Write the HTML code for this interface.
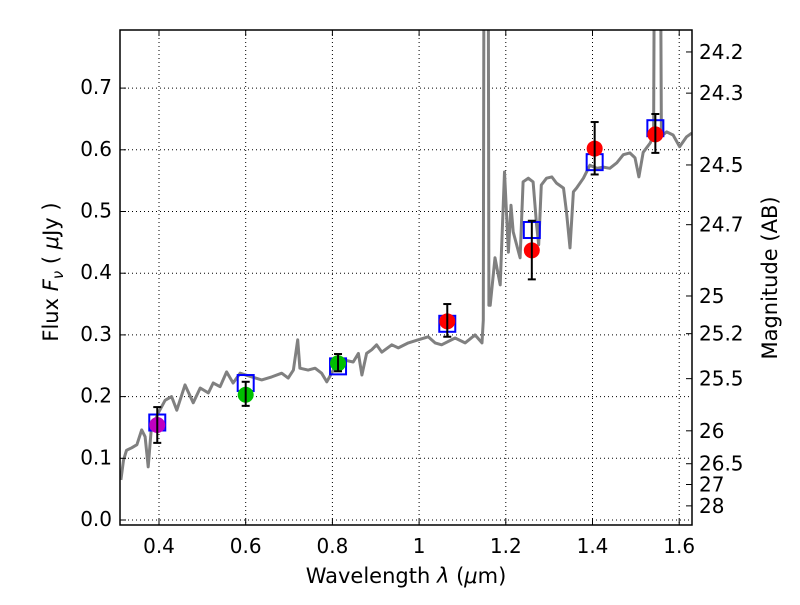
<!DOCTYPE html>
<html><head><meta charset="utf-8"><style>
body{margin:0;background:#fff}
svg text{font-family:"DejaVu Sans","Liberation Sans",sans-serif;fill:#000}
</style></head><body>
<svg id="chart" width="800" height="600" xmlns="http://www.w3.org/2000/svg">
<defs><clipPath id="clip"><rect x="120" y="30" width="572" height="495"/></clipPath></defs>
<rect width="800" height="600" fill="#fff"/>
<g id="grid"></g>
<g id="spec" clip-path="url(#clip)"></g>
<g id="pts" clip-path="url(#clip)"></g>
<rect x="120" y="30" width="572" height="495" fill="none" stroke="#000" stroke-width="1.5"/>
<g id="axes"></g>
<text x="406" y="583" font-size="21" text-anchor="middle">Wavelength  <tspan font-style="italic">λ</tspan> (<tspan font-style="italic">μ</tspan>m)</text>
<text transform="translate(58,272) rotate(-90)" font-size="21" text-anchor="middle">Flux  <tspan font-style="italic">F</tspan><tspan font-style="italic" font-size="15" dy="5">ν</tspan><tspan dy="-5">  ( </tspan><tspan font-style="italic">μ</tspan>Jy )</text>
<text transform="translate(777,278) rotate(-90)" font-size="21" text-anchor="middle">Magnitude (AB)</text>
</svg>
<script>
const specWave=[0.312,0.318,0.325,0.337,0.349,0.36,0.368,0.375,0.382,0.398,0.414,0.429,0.441,0.46,0.479,0.495,0.514,0.525,0.541,0.556,0.571,0.587,0.614,0.637,0.66,0.683,0.698,0.71,0.72,0.725,0.744,0.76,0.775,0.787,0.806,0.829,0.848,0.86,0.868,0.879,0.891,0.902,0.914,0.937,0.952,0.975,0.998,1.021,1.037,1.052,1.083,1.106,1.129,1.145,1.148,1.151,1.155,1.158,1.161,1.164,1.175,1.187,1.197,1.206,1.212,1.217,1.233,1.24,1.252,1.263,1.271,1.276,1.282,1.294,1.306,1.317,1.333,1.34,1.348,1.356,1.363,1.379,1.394,1.41,1.425,1.44,1.456,1.471,1.486,1.498,1.507,1.517,1.533,1.541,1.546,1.553,1.559,1.571,1.586,1.601,1.617,1.629];
const specFlux=[0.065,0.097,0.113,0.117,0.122,0.146,0.135,0.086,0.146,0.173,0.194,0.2,0.178,0.219,0.19,0.214,0.206,0.222,0.216,0.24,0.222,0.238,0.232,0.227,0.232,0.238,0.23,0.243,0.292,0.246,0.243,0.246,0.238,0.224,0.248,0.259,0.256,0.27,0.235,0.27,0.276,0.284,0.272,0.284,0.279,0.287,0.292,0.297,0.287,0.284,0.295,0.287,0.3,0.287,0.324,1.5,1.5,1.5,0.348,0.348,0.425,0.381,0.564,0.434,0.51,0.467,0.425,0.548,0.554,0.548,0.478,0.446,0.543,0.554,0.556,0.546,0.538,0.499,0.441,0.532,0.538,0.554,0.575,0.57,0.572,0.57,0.579,0.592,0.595,0.587,0.556,0.596,0.611,0.624,1.5,1.5,0.622,0.629,0.624,0.605,0.621,0.627];
const ptWave=[0.396,0.6,0.813,1.065,1.26,1.405,1.545];
const ptFlux=[0.154,0.203,0.254,0.322,0.437,0.602,0.625];
const errLo=[0.125,0.185,0.241,0.297,0.39,0.56,0.595];
const errHi=[0.183,0.224,0.269,0.35,0.485,0.645,0.658];
const boxFlux=[0.158,0.222,0.249,0.318,0.47,0.58,0.635];
const ptColor=['#bf00bf','#00bf00','#00bf00','#ff0000','#ff0000','#ff0000','#ff0000'];
const xTicks=[0.4,0.6,0.8,1.0,1.2,1.4,1.6];
const xTickLabels=['0.4','0.6','0.8','1','1.2','1.4','1.6'];
const yTicks=[0,0.1,0.2,0.3,0.4,0.5,0.6,0.7];
const yTickLabels=['0.0','0.1','0.2','0.3','0.4','0.5','0.6','0.7'];
const magTicks=[24.2,24.3,24.5,24.7,25,25.2,25.5,26,26.5,27,28];
const magLabels=['24.2','24.3','24.5','24.7','25','25.2','25.5','26','26.5','27','28'];

const NS='http://www.w3.org/2000/svg';
const X=v=>159+(v-0.4)*433.5;
const Y=v=>520-v*617;
function mk(tag,at,parent){const e=document.createElementNS(NS,tag);for(const k in at)e.setAttribute(k,at[k]);parent.appendChild(e);return e;}
const grid=document.getElementById('grid'),axes=document.getElementById('axes'),spec=document.getElementById('spec'),pts=document.getElementById('pts');

xTicks.forEach((t,i)=>{
  const l=mk('line',{x1:X(t),x2:X(t),y1:30,y2:525,stroke:'#000','stroke-width':1,'stroke-dasharray':'1,3'},grid);
  
  
  mk('line',{x1:X(t),x2:X(t),y1:525,y2:519,stroke:'#000'},axes);
  mk('line',{x1:X(t),x2:X(t),y1:30,y2:36,stroke:'#000'},axes);
  const tx=mk('text',{x:X(t),y:553,'font-size':20,'text-anchor':'middle'},axes);
  tx.textContent=xTickLabels[i];
  
  
});
yTicks.forEach((t,i)=>{
  const l=mk('line',{x1:120,x2:692,y1:Y(t),y2:Y(t),stroke:'#000','stroke-width':1,'stroke-dasharray':'1,3'},grid);
  
  
  mk('line',{x1:120,x2:126,y1:Y(t),y2:Y(t),stroke:'#000'},axes);
  const tx=mk('text',{x:112,y:Y(t)+6,'font-size':20,'text-anchor':'end'},axes);
  tx.textContent=yTickLabels[i];
  
  
});
magTicks.forEach((m,i)=>{
  const f=Math.pow(10,(23.9-m)/2.5);
  mk('line',{x1:686,x2:692,y1:Y(f),y2:Y(f),stroke:'#000'},axes);
  const tx=mk('text',{x:699,y:Y(f)+7,'font-size':20},axes);
  tx.textContent=magLabels[i];
  
  
});
const d=specWave.map((w,i)=>(i?'L':'M')+X(w).toFixed(1)+','+Y(specFlux[i]).toFixed(1)).join('');
const p=mk('path',{d:d,fill:'none',stroke:'#808080','stroke-width':3,'stroke-linejoin':'round'},spec);


ptWave.forEach((w,i)=>{
  const b=mk('rect',{x:X(w)-8,y:Y(boxFlux[i])-8,width:16,height:16,fill:'none',stroke:'#0000ff','stroke-width':2},pts);
  
  
  const c=mk('circle',{cx:X(w),cy:Y(ptFlux[i]),r:8,fill:ptColor[i]},pts);
  
  
  const g=mk('g',{stroke:'#000','stroke-width':2},pts);
  
  
  mk('line',{x1:X(w),x2:X(w),y1:Y(errLo[i]),y2:Y(errHi[i])},g);
  mk('line',{x1:X(w)-4,x2:X(w)+4,y1:Y(errLo[i]),y2:Y(errLo[i])},g);
  mk('line',{x1:X(w)-4,x2:X(w)+4,y1:Y(errHi[i]),y2:Y(errHi[i])},g);
});
</script>
</body></html>
